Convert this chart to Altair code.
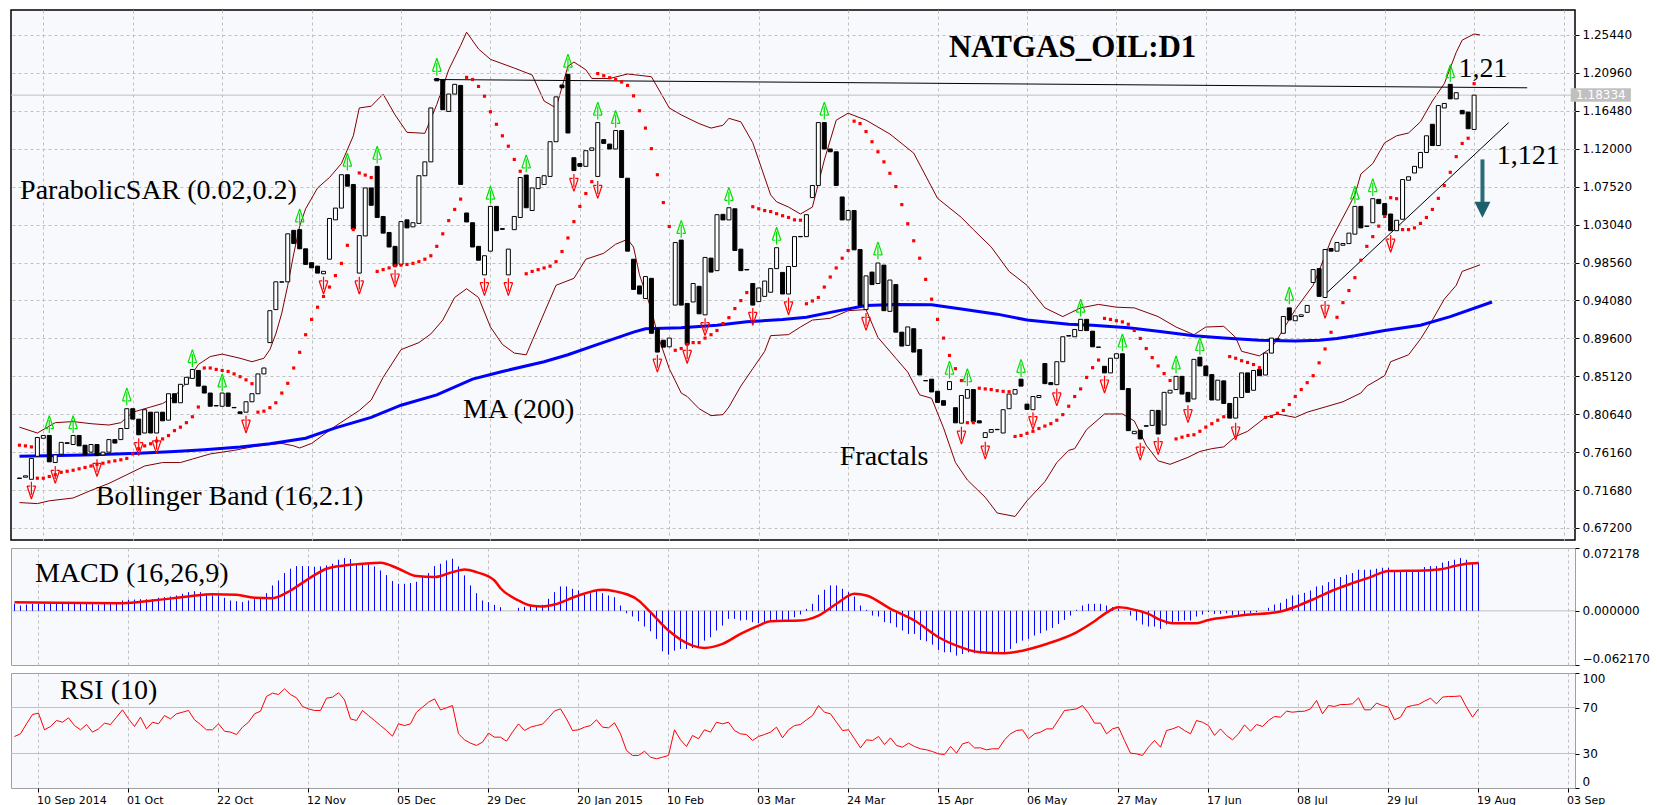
import altair as alt
import pandas as pd

# ---------------- data ----------------
FIRST_BAR = -4
opens = [
    0.7310, 0.7320, 0.7295, 0.7567, 0.7780, 0.7813, 0.7493, 0.7591, 0.7727, 0.7706,
    0.7813, 0.7698, 0.7616, 0.7706, 0.7583, 0.7616, 0.7764, 0.7764, 0.7895, 0.8129,
    0.8006, 0.7842, 0.8088, 0.7842, 0.8088, 0.7994, 0.8306, 0.8199, 0.8417, 0.8487,
    0.8581, 0.8396, 0.8314, 0.8166, 0.8158, 0.8314, 0.8144, 0.8092, 0.8088, 0.8211,
    0.8306, 0.8540, 0.8910, 0.9300, 0.9628, 0.9628, 1.0236, 1.0244, 1.0018, 0.9854,
    0.9813, 0.9723, 0.9895, 1.0360, 1.0499, 1.0893, 1.0778, 0.9731, 1.0170, 1.0737,
    1.0992, 1.0400, 1.0211, 1.0047, 0.9834, 1.0360, 1.0277, 1.0318, 1.0881, 1.1045,
    1.2030, 1.2018, 1.1641, 1.1846, 1.1948, 1.0441, 1.0326, 1.0047, 0.9710, 0.9990,
    1.0519, 1.0256, 0.9710, 1.0244, 1.0388, 1.0889, 1.0470, 1.0729, 1.0778, 1.0873,
    1.1283, 1.1953, 1.2080, 1.1094, 1.1025, 1.0992, 1.1181, 1.0873, 1.1308, 1.1255,
    1.1197, 1.1415, 1.0852, 0.9895, 0.9579, 0.9431, 0.9669, 0.9074, 0.8938, 0.8860,
    0.9353, 1.0121, 0.9373, 0.9390, 0.9575, 0.9238, 0.9908, 0.9760, 1.0425, 1.0359,
    1.0491, 1.0014, 0.9774, 0.9608, 0.9394, 0.9456, 0.9505, 0.9784, 0.9739, 0.9484,
    0.9809, 1.0164, 1.0162, 1.0623, 1.0766, 1.1509, 1.1197, 1.1164, 1.0630, 1.0359,
    1.0470, 1.0010, 0.9300, 0.9743, 0.9608, 0.9825, 0.9279, 0.9595, 0.9033, 0.8877,
    0.9074, 0.8827, 0.8462, 0.8478, 0.8335, 0.8224, 0.8355, 0.8141, 0.7958, 0.8253,
    0.8355, 0.7986, 0.7789, 0.7850, 0.7885, 0.7842, 0.8129, 0.8302, 0.8478, 0.8183,
    0.8117, 0.8261, 0.8663, 0.8437, 0.8413, 0.8684, 0.8993, 0.8979, 0.9052, 0.9185,
    0.9045, 0.8858, 0.8630, 0.8552, 0.8725, 0.8778, 0.8367, 0.7834, 0.7875, 0.7928,
    0.7932, 0.8109, 0.7936, 0.8314, 0.8355, 0.8511, 0.8322, 0.8244, 0.8737, 0.8634,
    0.8532, 0.8232, 0.8458, 0.8191, 0.8018, 0.8261, 0.8552, 0.8347, 0.8593, 0.8527,
    0.8786, 0.8954, 0.9020, 0.9320, 0.9168, 0.9218, 0.9267, 0.9620, 0.9784, 0.9443,
    1.0022, 0.9990, 1.0060, 1.0080, 1.0191, 1.0519, 1.0287, 1.0326, 1.0602, 1.0552,
    1.0429, 1.0232, 1.0367, 1.0828, 1.0914, 1.0975, 1.1156, 1.1489, 1.1238, 1.1682,
    1.1961, 1.1789, 1.1653, 1.1633, 1.1428,
]
closes = [
    0.7305, 0.7336, 0.7542, 0.7789, 0.7813, 0.7501, 0.7583, 0.7731, 0.7719, 0.7813,
    0.7690, 0.7583, 0.7706, 0.7575, 0.7616, 0.7764, 0.7723, 0.7895, 0.8129, 0.8006,
    0.7821, 0.8117, 0.7842, 0.8088, 0.7986, 0.8306, 0.8199, 0.8417, 0.8500, 0.8593,
    0.8396, 0.8314, 0.8158, 0.8162, 0.8314, 0.8158, 0.8140, 0.8071, 0.8211, 0.8306,
    0.8540, 0.8610, 0.9287, 0.9628, 0.9624, 1.0195, 1.0080, 1.0018, 0.9834, 0.9793,
    0.9731, 0.9752, 1.0376, 1.0499, 1.0893, 1.0758, 1.0252, 1.0174, 1.0737, 1.0532,
    1.0388, 1.0203, 1.0039, 0.9813, 1.0339, 1.0265, 1.0326, 1.0881, 1.1045, 1.1682,
    1.2002, 1.1661, 1.1846, 1.1961, 1.0778, 1.0335, 1.0039, 0.9883, 0.9936, 1.0519,
    1.0232, 1.0248, 1.0014, 1.0400, 1.0860, 1.0503, 1.0737, 1.0860, 1.0881, 1.1283,
    1.1813, 1.1920, 1.1386, 1.0942, 1.0992, 1.1177, 1.1210, 1.1509, 1.1263, 1.1197,
    1.1415, 1.0860, 0.9990, 0.9538, 0.9484, 0.9690, 0.9020, 0.8798, 0.8856, 0.8963,
    1.0092, 0.9353, 0.8889, 0.9608, 0.9250, 0.9916, 0.9743, 1.0421, 1.0359, 1.0503,
    0.9998, 0.9760, 0.9768, 0.9353, 0.9555, 0.9637, 0.9784, 1.0031, 0.9484, 0.9809,
    1.0162, 1.0160, 1.0421, 1.0766, 1.1509, 1.1197, 1.1164, 1.0766, 1.0359, 1.0470,
    1.0006, 0.9349, 0.9698, 0.9595, 0.9850, 0.9287, 0.9649, 0.9033, 0.8869, 0.9095,
    0.8798, 0.8527, 0.8458, 0.8327, 0.8203, 0.8170, 0.8449, 0.7962, 0.8285, 0.8355,
    0.7974, 0.7961, 0.7846, 0.7883, 0.7881, 0.8117, 0.8302, 0.8355, 0.8396, 0.8121,
    0.8273, 0.8285, 0.8425, 0.8413, 0.8684, 0.8979, 0.8987, 0.9065, 0.9185, 0.9052,
    0.8860, 0.8854, 0.8552, 0.8725, 0.8778, 0.8355, 0.7870, 0.7862, 0.7772, 0.7922,
    0.8109, 0.7830, 0.8322, 0.8347, 0.8511, 0.8302, 0.8211, 0.8712, 0.8634, 0.8519,
    0.8232, 0.8466, 0.8191, 0.8018, 0.8261, 0.8552, 0.8322, 0.8581, 0.8519, 0.8786,
    0.8963, 0.8950, 0.9218, 0.9177, 0.9226, 0.9238, 0.9349, 0.9772, 0.9456, 1.0010,
    0.9990, 1.0092, 1.0080, 1.0203, 1.0519, 1.0265, 1.0283, 1.0610, 1.0552, 1.0417,
    1.0232, 1.0355, 1.0836, 1.0869, 1.0992, 1.1156, 1.1353, 1.1238, 1.1710, 1.1735,
    1.1789, 1.1862, 1.1612, 1.1436, 1.1833,
]
sar = [
    0.7698, 0.7690, 0.7678, 0.7308, 0.7308, 0.7328, 0.7349, 0.7378, 0.7390, 0.7402,
    0.7419, 0.7435, 0.7452, 0.7472, 0.7485, 0.7501, 0.7513, 0.7526, 0.7542, 0.7595,
    0.7657, 0.7690, 0.7715, 0.7747, 0.7772, 0.7812, 0.7870, 0.7911, 0.7964, 0.8034,
    0.8149, 0.8610, 0.8610, 0.8593, 0.8581, 0.8569, 0.8540, 0.8507, 0.8470, 0.8425,
    0.8088, 0.8100, 0.8141, 0.8199, 0.8314, 0.8429, 0.8610, 0.8795, 0.9003, 0.9184,
    0.9328, 0.9455, 0.9566, 0.9702, 0.9846, 1.0059, 1.0245, 1.0914, 1.0889, 1.0860,
    0.9751, 0.9772, 0.9792, 0.9817, 0.9825, 0.9833, 0.9846, 0.9866, 0.9895, 0.9936,
    1.0047, 1.0195, 1.0351, 1.0483, 1.0605, 1.2043, 1.2018, 1.1936, 1.1821, 1.1637,
    1.1489, 1.1353, 1.1230, 1.1074, 1.0934, 0.9723, 0.9751, 0.9772, 0.9792, 0.9813,
    0.9866, 0.9986, 1.0146, 1.0339, 1.0519, 1.0671, 1.0811, 1.2088, 1.2063, 1.2039,
    1.2018, 1.1989, 1.1948, 1.1825, 1.1649, 1.1444, 1.1201, 1.0893, 1.0564, 1.0282,
    0.8819, 0.8840, 0.8889, 0.8910, 0.8910, 0.8963, 0.9003, 0.9053, 0.9135, 0.9205,
    0.9312, 0.9406, 0.9501, 1.0515, 1.0491, 1.0470, 1.0458, 1.0433, 1.0409, 1.0388,
    1.0360, 1.0356, 0.9369, 0.9402, 0.9443, 0.9566, 0.9685, 0.9792, 0.9907, 0.9998,
    1.1526, 1.1497, 1.1403, 1.1283, 1.1164, 1.1045, 1.0910, 1.0753, 1.0540, 1.0314,
    1.0113, 0.9907, 0.9657, 0.9423, 0.9184, 0.8963, 0.8758, 0.8602, 0.8462, 0.7964,
    0.7964, 0.8371, 0.8363, 0.8355, 0.8342, 0.8334, 0.8330, 0.7801, 0.7813, 0.7838,
    0.7862, 0.7895, 0.7924, 0.7952, 0.7993, 0.8059, 0.8158, 0.8273, 0.8363, 0.8499,
    0.8614, 0.8704, 0.9196, 0.9184, 0.9168, 0.9155, 0.9127, 0.9053, 0.8959, 0.8840,
    0.8733, 0.8634, 0.8544, 0.8462, 0.7772, 0.7793, 0.7813, 0.7821, 0.7862, 0.7911,
    0.7952, 0.7993, 0.8034, 0.8745, 0.8725, 0.8696, 0.8675, 0.8651, 0.8614, 0.8026,
    0.8038, 0.8075, 0.8108, 0.8178, 0.8273, 0.8355, 0.8437, 0.8519, 0.8671, 0.8835,
    0.9032, 0.9209, 0.9382, 0.9525, 0.9677, 0.9883, 1.0047, 1.0162, 1.0286, 1.0400,
    1.0622, 1.0610, 1.0245, 1.0245, 1.0265, 1.0318, 1.0388, 1.0483, 1.0614, 1.0765,
    1.0922, 1.1107, 1.1263, 1.1324, 1.1969,
]
macd_hist = [
    0.0081, 0.0061, 0.0073, 0.0081, 0.0081, 0.0081, 0.0088, 0.0096, 0.0096, 0.0104,
    0.0096, 0.0100, 0.0092, 0.0088, 0.0069, 0.0081, 0.0081, 0.0081, 0.0119, 0.0127,
    0.0130, 0.0134, 0.0134, 0.0134, 0.0150, 0.0157, 0.0165, 0.0177, 0.0196, 0.0215,
    0.0226, 0.0215, 0.0196, 0.0177, 0.0177, 0.0150, 0.0119, 0.0111, 0.0100, 0.0119,
    0.0134, 0.0138, 0.0203, 0.0292, 0.0349, 0.0434, 0.0484, 0.0514, 0.0514, 0.0514,
    0.0507, 0.0510, 0.0522, 0.0541, 0.0587, 0.0606, 0.0595, 0.0549, 0.0541, 0.0541,
    0.0510, 0.0464, 0.0411, 0.0342, 0.0311, 0.0311, 0.0319, 0.0334, 0.0388, 0.0434,
    0.0514, 0.0541, 0.0579, 0.0599, 0.0510, 0.0407, 0.0292, 0.0203, 0.0119, 0.0100,
    0.0069, 0.0042, 0.0000, 0.0000, 0.0035, 0.0046, 0.0061, 0.0061, 0.0069, 0.0138,
    0.0215, 0.0280, 0.0280, 0.0253, 0.0234, 0.0184, 0.0203, 0.0234, 0.0203, 0.0177,
    0.0157, 0.0061, -0.0027, -0.0065, -0.0119, -0.0180, -0.0234, -0.0322, -0.0464, -0.0503,
    -0.0457, -0.0437, -0.0437, -0.0426, -0.0418, -0.0342, -0.0303, -0.0226, -0.0169, -0.0092,
    -0.0092, -0.0111, -0.0104, -0.0130, -0.0142, -0.0142, -0.0104, -0.0104, -0.0104, -0.0104,
    -0.0073, -0.0042, 0.0023, 0.0081, 0.0184, 0.0242, 0.0292, 0.0292, 0.0253, 0.0215,
    0.0165, 0.0061, 0.0012, -0.0054, -0.0065, -0.0130, -0.0142, -0.0188, -0.0226, -0.0265,
    -0.0265, -0.0334, -0.0349, -0.0388, -0.0449, -0.0476, -0.0476, -0.0514, -0.0495, -0.0476,
    -0.0487, -0.0487, -0.0487, -0.0487, -0.0487, -0.0487, -0.0437, -0.0372, -0.0342, -0.0322,
    -0.0284, -0.0257, -0.0226, -0.0196, -0.0150, -0.0104, -0.0054, 0.0012, 0.0061, 0.0081,
    0.0081, 0.0081, 0.0061, 0.0042, 0.0023, 0.0004, -0.0054, -0.0111, -0.0157, -0.0180,
    -0.0180, -0.0207, -0.0157, -0.0130, -0.0119, -0.0111, -0.0111, -0.0065, -0.0042, -0.0015,
    -0.0035, -0.0035, -0.0027, -0.0046, -0.0054, -0.0035, -0.0027, -0.0015, 0.0000, 0.0035,
    0.0073, 0.0092, 0.0138, 0.0177, 0.0188, 0.0207, 0.0234, 0.0280, 0.0292, 0.0330,
    0.0368, 0.0388, 0.0414, 0.0434, 0.0472, 0.0472, 0.0472, 0.0484, 0.0495, 0.0495,
    0.0464, 0.0457, 0.0457, 0.0457, 0.0457, 0.0503, 0.0514, 0.0514, 0.0553, 0.0572,
    0.0587, 0.0606, 0.0587, 0.0553, 0.0553,
]
rsi = [
    44.8, 47.1, 55.8, 63.9, 65.1, 50.6, 53.5, 58.7, 57.2, 61.0,
    54.3, 50.6, 55.2, 48.6, 51.4, 56.4, 55.2, 61.6, 68.0, 60.1,
    53.5, 61.6, 51.4, 57.2, 55.8, 63.0, 60.1, 64.5, 65.9, 67.4,
    59.3, 55.2, 50.6, 50.6, 55.8, 49.4, 48.6, 46.5, 52.9, 57.2,
    64.5, 66.8, 79.6, 82.5, 81.3, 86.2, 81.3, 78.4, 70.9, 68.8,
    67.4, 67.4, 78.1, 79.0, 82.8, 76.7, 60.1, 58.7, 67.4, 63.0,
    58.7, 54.3, 50.0, 45.1, 55.8, 54.3, 55.8, 65.9, 70.3, 74.6,
    77.5, 67.9, 69.7, 71.7, 47.1, 41.9, 39.0, 37.0, 39.9, 47.7,
    44.2, 44.2, 40.7, 48.6, 55.8, 50.0, 52.9, 54.3, 55.5, 61.0,
    67.0, 68.8, 60.1, 50.0, 50.6, 52.9, 54.3, 59.3, 52.9, 52.3,
    56.7, 47.1, 32.6, 28.3, 28.3, 32.0, 26.8, 25.4, 26.8, 28.3,
    50.6, 41.9, 36.1, 45.7, 42.8, 50.6, 48.6, 57.2, 55.8, 57.2,
    50.0, 47.1, 46.5, 41.3, 44.8, 46.5, 48.6, 52.9, 43.6, 50.6,
    54.3, 55.2, 59.3, 63.0, 71.7, 65.9, 64.5, 57.2, 50.0, 50.6,
    42.8, 34.9, 41.9, 41.3, 44.8, 37.8, 43.6, 37.0, 35.5, 39.0,
    36.1, 34.1, 33.2, 31.7, 29.7, 29.1, 36.1, 30.3, 38.4, 39.9,
    34.9, 34.9, 33.2, 34.1, 34.1, 41.9, 47.1, 50.0, 50.6, 42.8,
    47.1, 48.6, 51.4, 51.4, 59.3, 67.4, 68.0, 68.8, 71.7, 65.1,
    56.4, 56.4, 47.1, 51.4, 52.9, 41.3, 30.3, 29.7, 28.3, 35.5,
    41.3, 35.5, 50.0, 51.4, 53.5, 50.0, 47.1, 58.7, 57.2, 54.3,
    45.7, 51.4, 45.7, 41.9, 47.1, 54.9, 49.4, 55.2, 53.5, 58.7,
    62.2, 61.6, 66.8, 65.9, 66.5, 66.8, 68.8, 76.1, 64.5, 71.7,
    70.9, 72.6, 72.6, 73.2, 78.4, 68.0, 68.0, 73.8, 71.7, 70.3,
    59.3, 61.6, 70.3, 71.7, 72.6, 75.5, 78.1, 73.2, 79.0, 79.6,
    79.6, 80.1, 70.3, 61.6, 68.8,
]
N = len(opens)
assert len(closes) == N and len(sar) == N and len(macd_hist) == N and len(rsi) == N, (
    len(opens), len(closes), len(sar), len(macd_hist), len(rsi))
bars = list(range(FIRST_BAR, FIRST_BAR + N))

bb_upper = [(-4,0.7911),(-1,0.7842),(2,0.7964),(5,0.7977),(8,0.7952),(11,0.7936),(13,0.7964),(15,0.8088),
    (18,0.8149),(20,0.8190),(22,0.8273),(24,0.8437),(26,0.8651),(28,0.8745),(30,0.8774),(33,0.8725),(35,0.8684),
    (37,0.8725),(38,0.8827),(39,0.9012),(40,0.9258),(41,0.9587),(42,0.9957),(43,1.0286),(44,1.0491),(46,1.0737),
    (48,1.0860),(50,1.1025),(52,1.1353),(53,1.1682),(55,1.1702),(57,1.1846),(59,1.1600),(61,1.1394),(64,1.1382),
    (66,1.1723),(68,1.2133),(70,1.2420),(71,1.2577),(73,1.2379),(75,1.2256),(79,1.2153),(82,1.2071),(84,1.1764),
    (86,1.1682),(88,1.2174),(89,1.2224),(91,1.2133),(92,1.2030),(95,1.2030),(98,1.2083),(102,1.2051),(105,1.1682),
    (107,1.1600),(110,1.1497),(112,1.1444),(114,1.1477),(115,1.1559),(117,1.1518),(119,1.1271),(120,1.1066),
    (122,1.0655),(123,1.0573),(125,1.0511),(127,1.0429),(129,1.0511),(131,1.1066),(133,1.1538),(135,1.1620),
    (138,1.1538),(142,1.1374),(146,1.1148),(150,1.0614),(154,1.0388),(156,1.0245),(159,1.0039),(162,0.9751),
    (165,0.9587),(168,0.9320),(171,0.9217),(174,0.9320),(177,0.9361),(180,0.9328),(183,0.9320),(187,0.9217),
    (190,0.9094),(193,0.9003),(195,0.9094),(198,0.9102),(200,0.8971),(201,0.8807),(204,0.8753),(206,0.8848),
    (207,0.8951),(210,0.9300),(213,0.9587),(215,0.9936),(216,1.0122),(220,1.0655),(221,1.0901),(223,1.1025),
    (225,1.1271),(227,1.1353),(229,1.1386),(231,1.1518),(233,1.1764),(235,1.1969),(237,1.2339),(238,1.2483),
    (240,1.2556),(241,1.2544)]
bb_lower = [(-4,0.7020),(-1,0.7008),(1,0.7041),(5,0.7074),(8,0.7164),(11,0.7246),(14,0.7349),(17,0.7452),
    (20,0.7493),(23,0.7493),(25,0.7534),(28,0.7595),(32,0.7637),(35,0.7678),(38,0.7706),(40,0.7719),(42,0.7690),
    (43,0.7665),(45,0.7719),(49,0.7924),(53,0.8108),(55,0.8232),(57,0.8499),(60,0.8827),(63,0.8910),(65,0.9012),
    (67,0.9176),(69,0.9443),(71,0.9546),(73,0.9443),(75,0.9094),(77,0.8889),(79,0.8786),(81,0.8766),(82,0.8930),
    (84,0.9258),(86,0.9587),(89,0.9669),(91,0.9895),(94,0.9965),(96,1.0072),(98,1.0130),(99,1.0039),(100,0.9710),
    (102,0.9300),(103,0.9012),(105,0.8602),(107,0.8314),(108,0.8273),(110,0.8129),(112,0.8047),(114,0.8059),
    (115,0.8149),(117,0.8396),(119,0.8602),(121,0.8807),(122,0.8992),(125,0.9004),(127,0.9094),(129,0.9176),
    (132,0.9197),(135,0.9287),(138,0.9300),(140,0.8971),(143,0.8725),(145,0.8561),(147,0.8293),(149,0.8252),
    (151,0.7903),(153,0.7493),(155,0.7287),(158,0.7082),(160,0.6897),(163,0.6856),(165,0.7041),(168,0.7267),
    (170,0.7493),(172,0.7637),(173,0.7657),(175,0.7883),(178,0.8067),(181,0.8067),(183,0.7985),(185,0.7698),
    (187,0.7513),(189,0.7472),(192,0.7554),(194,0.7624),(196,0.7657),(198,0.7678),(200,0.7801),(202,0.7862),
    (205,0.8026),(207,0.8067),(210,0.8026),(212,0.8088),(215,0.8149),(218,0.8211),(221,0.8314),(222,0.8396),
    (225,0.8519),(226,0.8684),(229,0.8766),(231,0.8951),(233,0.9176),(235,0.9423),(237,0.9587),(238,0.9751),
    (241,0.9829)]
ma200 = [(-4,0.7567),(7,0.7583),(16,0.7604),(22,0.7624),(27,0.7645),(33,0.7678),(38,0.7715),(44,0.7780),
    (49,0.7903),(55,0.8026),(60,0.8170),(66,0.8293),(72,0.8478),(77,0.8569),(84,0.8684),(88,0.8766),(93,0.8889),
    (99,0.9033),(101,0.9074),(107,0.9086),(113,0.9115),(118,0.9156),(124,0.9184),(128,0.9209),(132,0.9267),
    (138,0.9349),(143,0.9361),(149,0.9357),(154,0.9308),(160,0.9246),(165,0.9176),(172,0.9127),(176,0.9115),
    (182,0.9086),(187,0.9045),(193,0.8991),(198,0.8963),(204,0.8938),(210,0.8930),(214,0.8938),(217,0.8959),
    (220,0.8991),(225,0.9053),(231,0.9115),(236,0.9217),(243,0.9390)]
macd_signal = [(-4,0.0100),(3,0.0092),(14,0.0088),(19,0.0119),(25,0.0165),(29,0.0192),(33,0.0184),(36,0.0150),
    (39,0.0146),(42,0.0234),(45,0.0368),(48,0.0484),(51,0.0522),(54,0.0541),(57,0.0553),(60,0.0484),(63,0.0399),
    (66,0.0388),(69,0.0445),(71,0.0476),(73,0.0445),(76,0.0349),(77,0.0260),(80,0.0119),(82,0.0061),(84,0.0050),
    (86,0.0073),(90,0.0177),(94,0.0242),(96,0.0226),(100,0.0119),(102,-0.0015),(105,-0.0226),(109,-0.0399),
    (111,-0.0426),(114,-0.0380),(117,-0.0265),(120,-0.0169),(122,-0.0119),(127,-0.0111),(130,-0.0054),
    (133,0.0081),(136,0.0196),(138,0.0177),(142,0.0023),(146,-0.0111),(150,-0.0303),(153,-0.0399),(157,-0.0476),
    (161,-0.0487),(164,-0.0457),(168,-0.0380),(173,-0.0246),(176,-0.0120),(178,-0.0020),(180,0.0040),
    (182,0.0023),(185,-0.0035),(187,-0.0104),(189,-0.0142),(193,-0.0142),(195,-0.0104),(199,-0.0065),
    (202,-0.0042),(205,-0.0027),(207,-0.0008),(210,0.0061),(213,0.0150),(216,0.0242),(219,0.0318),(222,0.0388),
    (225,0.0457),(231,0.0464),(234,0.0480),(236,0.0514),(238,0.0541),(240,0.0549)]
fractal_up = [(1,0.7944),(5,0.7944),(14,0.8273),(25,0.8725),(30,0.8437),(43,1.0388),(51,1.1045),(56,1.1127),
    (66,1.2166),(75,1.0655),(81,1.1025),(88,1.2215),(93,1.1649),(96,1.1550),(107,1.0252),(115,1.0642),
    (123,1.0170),(131,1.1649),(140,0.9998),(152,0.8589),(155,0.8499),(164,0.8610),(174,0.9320),(181,0.8909),
    (190,0.8650),(194,0.8868),(209,0.9464),(220,1.0655),(223,1.0745),(236,1.2092)]
fractal_down = [(-2,0.7164),(2,0.7349),(9,0.7431),(16,0.7677),(19,0.7698),(34,0.7944),(47,0.9587),(53,0.9587),
    (59,0.9669),(74,0.9567),(78,0.9567),(89,1.0799),(93,1.0716),(103,0.8663),(108,0.8766),(111,0.9094),
    (119,0.9217),(125,0.9341),(138,0.9156),(154,0.7813),(158,0.7636),(166,0.7985),(170,0.8265),(178,0.8417),
    (184,0.7624),(187,0.7689),(192,0.8067),(200,0.7862),(215,0.9300),(226,1.0080)]
# drawn lines: (bar1, price1, bar2, price2)
resistance = (65.5, 1.2018, 248.9, 1.1920)
trendline = (214.9, 0.9472, 245.8, 1.1509)
last_price = 1.18334

x_tick_bars = [0, 15, 30, 45, 60, 75, 90, 105, 120, 135, 150, 165, 180, 195, 210, 225, 240, 255]
x_tick_labels = ["10 Sep 2014", "01 Oct", "22 Oct", "12 Nov", "05 Dec", "29 Dec", "20 Jan 2015",
                 "10 Feb", "03 Mar", "24 Mar", "15 Apr", "06 May", "27 May", "17 Jun", "08 Jul",
                 "29 Jul", "19 Aug", "03 Sep"]
price_ticks = [0.6720, 0.7168, 0.7616, 0.8064, 0.8512, 0.8960, 0.9408, 0.9856,
               1.0304, 1.0752, 1.1200, 1.1648, 1.2096, 1.2544]
macd_ticks = [-0.06217, 0.0, 0.072178]
rsi_ticks = [0, 30, 70, 100]

# ---------------- layout / style ----------------
PW = 1564
X0 = -4.5833
X_DOM = [X0, X0 + PW / 6.0]
P_DOM = [0.6578, 1.2839]
M_DOM = [-0.06217, 0.072178]
GRID = "#c0c0c0"
AXIS_FONT = "DejaVu Sans"
SERIF = "Liberation Serif"

xs = alt.Scale(domain=X_DOM, nice=False, zero=False)
ps = alt.Scale(domain=P_DOM, nice=False, zero=False)
ms = alt.Scale(domain=M_DOM, nice=False, zero=False)
rs = alt.Scale(domain=[0, 100], nice=False, zero=False)

X_GRID_AXIS = alt.Axis(values=x_tick_bars, grid=True, gridDash=[3, 3], gridColor=GRID, labels=False,
                       ticks=False, domain=False, title=None)
label_expr = "[" + ",".join("'%s'" % s for s in x_tick_labels) + "][round(datum.value/15)]"
X_BOTTOM_AXIS = alt.Axis(values=x_tick_bars, grid=True, gridDash=[3, 3], gridColor=GRID, labelExpr=label_expr,
                         labelAlign="left", labelFont=AXIS_FONT, labelFontSize=11, labelColor="black",
                         tickSize=4, tickColor="black", domain=False, labelPadding=2, labelOffset=-2,
                         title=None, labelOverlap=False, labelFlush=False, labelBound=False)


def y_axis(values, fmt, grid=False, flush=False):
    return alt.Axis(orient="right", values=values, format=fmt, grid=grid, gridDash=[3, 3], gridColor=GRID,
                    domain=False, tickSize=4, tickColor="black", labelFont=AXIS_FONT, labelFontSize=12,
                    labelColor="black", labelPadding=3, title=None, labelOverlap=False, labelFlush=flush)


P_AXIS = y_axis(price_ticks, ".5f", grid=True)
M_AXIS = y_axis(macd_ticks, ".6f", flush=True)
R_AXIS = y_axis(rsi_ticks, "d", flush=True)


def pairs_df(pairs, name):
    return pd.DataFrame({"bar": [p[0] for p in pairs], "v": [p[1] for p in pairs], "s": name})


df = pd.DataFrame({"bar": bars, "open": opens, "close": closes, "sar": sar,
                   "hist": macd_hist, "rsi": rsi})
df["zero"] = 0.0


def PX(field="bar"):
    return alt.X(field + ":Q", scale=xs, axis=X_GRID_AXIS)


def RX(field="bar"):
    return alt.X(field + ":Q", scale=xs, axis=X_BOTTOM_AXIS)


def PY(field):
    return alt.Y(field + ":Q", scale=ps, axis=P_AXIS)


def MY(field):
    return alt.Y(field + ":Q", scale=ms, axis=M_AXIS)


def RY(field):
    return alt.Y(field + ":Q", scale=rs, axis=R_AXIS)


# ---------------- price panel ----------------
bands = pd.concat([pairs_df(bb_upper, "up"), pairs_df(bb_lower, "lo")])
band_layer = alt.Chart(bands).mark_line(color="#800000", strokeWidth=1).encode(
    x=PX(), y=PY("v"), detail="s:N")
ma_layer = alt.Chart(pairs_df(ma200, "ma")).mark_line(color="#0000ff", strokeWidth=3).encode(
    x=PX(), y=PY("v"))
bid_layer = alt.Chart(pd.DataFrame({"v": [last_price]})).mark_rule(color=GRID, strokeWidth=1).encode(
    y=PY("v"))
lines_df = pd.DataFrame([resistance, trendline], columns=["b1", "p1", "b2", "p2"])
lines_layer = alt.Chart(lines_df).mark_rule(color="black", strokeWidth=1).encode(
    x=PX("b1"), x2="b2:Q", y=PY("p1"), y2="p2:Q")
candles = alt.Chart(df).mark_bar(size=4, stroke="black", strokeWidth=1).encode(
    x=PX(), y=PY("open"), y2="close:Q",
    fill=alt.condition("datum.close >= datum.open", alt.value("white"), alt.value("black")))
sar_layer = alt.Chart(df).mark_square(size=10, color="#ff0000", opacity=1).encode(
    x=PX(), y=PY("sar"))
UP_SHAPE = "M0,-1 L-0.5,0.5 M0,-1 L0.5,0.5 M-0.5,0.5 L-0.15,0.5 M0.15,0.5 L0.5,0.5 M0,-0.5 L0,1"
DN_SHAPE = "M0,1 L-0.5,-0.5 M0,1 L0.5,-0.5 M-0.5,-0.5 L-0.15,-0.5 M0.15,-0.5 L0.5,-0.5 M0,0.5 L0,-1"
fup = alt.Chart(pairs_df(fractal_up, "u")).mark_point(shape=UP_SHAPE, size=300, filled=False,
                                                      color="#00e000", strokeWidth=1.2, opacity=1).encode(
    x=PX(), y=PY("v"))
fdn = alt.Chart(pairs_df(fractal_down, "d")).mark_point(shape=DN_SHAPE, size=300, filled=False,
                                                        color="#ff0000", strokeWidth=1.2, opacity=1).encode(
    x=PX(), y=PY("v"))

# annotations (bar, price anchor of text start / baseline)
notes = pd.DataFrame({
    "t": ["ParabolicSAR (0.02,0.2)", "MA (200)", "Bollinger Band (16,2.1)", "Fractals", "1,21", "1,121"],
    "bar": [-3.9, 70.4, 8.8, 133.6, 237.4, 243.8],
    "v": [1.0607, 0.8019, 0.6992, 0.7464, 1.2050, 1.1024]})
notes_layer = alt.Chart(notes).mark_text(font=SERIF, fontSize=28, align="left", baseline="alphabetic",
                                         color="black").encode(x=PX(), y=PY("v"), text="t:N")
title_layer = alt.Chart(pd.DataFrame({"t": ["NATGAS_OIL:D1"], "bar": [151.9], "v": [1.2289]})).mark_text(
    font=SERIF, fontSize=31, fontWeight="bold", align="left", baseline="alphabetic", color="black").encode(
    x=PX(), y=PY("v"), text="t:N")
# downward arrow
arrow_shaft = alt.Chart(pd.DataFrame({"bar": [241.4], "v": [1.1074], "v2": [1.0560]})).mark_rule(
    color="#2a6d79", strokeWidth=4).encode(x=PX(), y=PY("v"), y2="v2:Q")
arrow_head = alt.Chart(pd.DataFrame({"bar": [241.4], "v": [1.0480]})).mark_point(
    shape="M-1,-1 L1,-1 L0,1 Z", size=256, filled=True, color="#1d5f6b", opacity=1).encode(
    x=PX(), y=PY("v"))
# current price tag on the right axis
tag_box = alt.Chart(pd.DataFrame({"b1": [256.2], "b2": [266.3], "v": [1.1914], "v2": [1.1756]})).mark_rect(
    color="#c0c0c0").encode(x=PX("b1"), x2="b2:Q", y=PY("v"), y2="v2:Q")
tag_text = alt.Chart(pd.DataFrame({"bar": [257.1], "v": [last_price], "t": ["%.5f" % last_price]})).mark_text(
    font=AXIS_FONT, fontSize=12, align="left", baseline="middle", color="white").encode(
    x=PX(), y=PY("v"), text="t:N")

price = alt.layer(band_layer, bid_layer, ma_layer, lines_layer, candles, sar_layer, fup, fdn,
                  notes_layer, title_layer, arrow_shaft, arrow_head, tag_box, tag_text).properties(
    width=PW, height=530)

# ---------------- MACD panel ----------------
zero_rule = alt.Chart(pd.DataFrame({"z": [0.0]})).mark_rule(color=GRID, strokeWidth=1).encode(y=MY("z"))
hist_layer = alt.Chart(df).mark_rule(color="#0000ff", strokeWidth=1).encode(
    x=PX(), y=MY("zero"), y2="hist:Q")
sig_layer = alt.Chart(pairs_df(macd_signal, "sig")).mark_line(color="#ff0000", strokeWidth=2.5,
                                                              interpolate="monotone").encode(
    x=PX(), y=MY("v"))
macd_text = alt.Chart(pd.DataFrame({"t": ["MACD (16,26,9)"], "bar": [-0.6], "v": [0.0334]})).mark_text(
    font=SERIF, fontSize=28, align="left", baseline="alphabetic", color="black").encode(
    x=PX(), y=MY("v"), text="t:N")
macd = alt.layer(zero_rule, hist_layer, sig_layer, macd_text).properties(
    width=PW, height=117, view=alt.ViewBackground(stroke="#a0a0a0", strokeWidth=1))

# ---------------- RSI panel ----------------
lvl = alt.Chart(pd.DataFrame({"l": [30, 70]})).mark_rule(color=GRID, strokeWidth=1).encode(y=RY("l"))
rsi_layer = alt.Chart(df).mark_line(color="#ff0000", strokeWidth=1).encode(x=RX(), y=RY("rsi"))
rsi_text = alt.Chart(pd.DataFrame({"t": ["RSI (10)"], "bar": [3.6], "v": [77.7]})).mark_text(
    font=SERIF, fontSize=28, align="left", baseline="alphabetic", color="black").encode(
    x=RX(), y=RY("v"), text="t:N")
rsi_chart = alt.layer(lvl, rsi_layer, rsi_text).properties(
    width=PW, height=115, view=alt.ViewBackground(stroke="#a0a0a0", strokeWidth=1))

chart = alt.vconcat(price, macd, rsi_chart, spacing=5).configure(
    padding={"left": 8, "top": 9, "right": 0, "bottom": 0}, background="#ffffff"
).configure_view(stroke="black", strokeWidth=1.5, fill="#f8f9fd")

chart.save("out.html", embed_options={"renderer": "svg", "actions": False})
